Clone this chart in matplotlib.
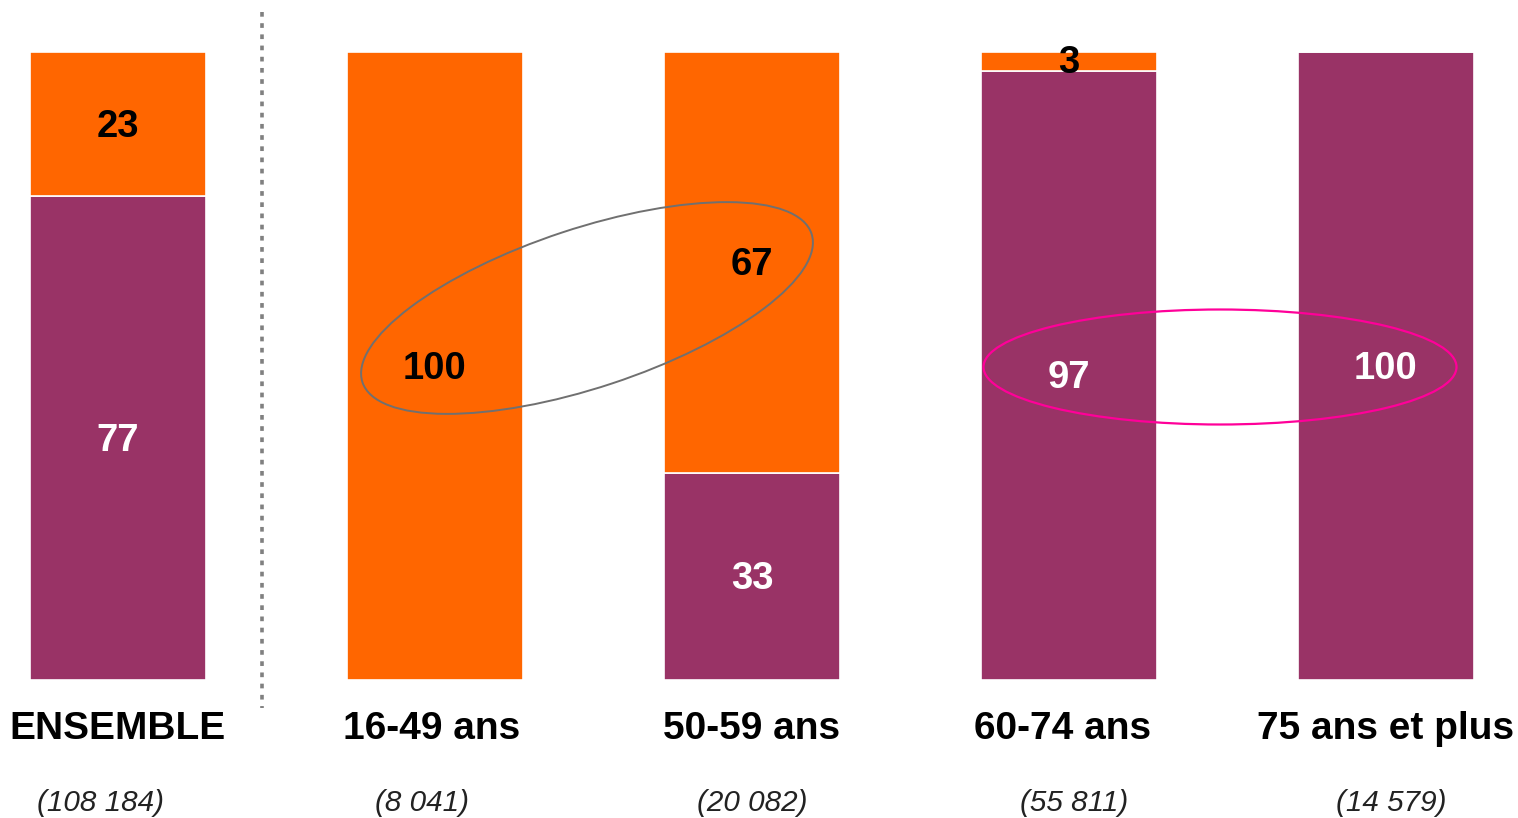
import matplotlib
matplotlib.use("Agg")
import matplotlib.pyplot as plt
from matplotlib.patches import Ellipse
from matplotlib.transforms import IdentityTransform

categories = ["ENSEMBLE", "16-49 ans", "50-59 ans", "60-74 ans", "75 ans et plus"]
counts = ["(108 184)", "(8 041)", "(20 082)", "(55 811)", "(14 579)"]
purple_vals = [77, 0, 33, 97, 100]
orange_vals = [23, 100, 67, 3, 0]

PURPLE = "#993366"
ORANGE = "#FF6600"

plt.rcParams["font.family"] = ["Liberation Sans", "DejaVu Sans"]

W, H = 1518, 818
fig = plt.figure(figsize=(W / 100, H / 100), dpi=100)
ax = fig.add_axes([0, (H - 680) / H, 1, 628 / H])
ax.set_axis_off()

x = list(range(len(categories)))
unit = 317.0
ax.set_xlim(-118 / unit, (W - 118) / unit)
ax.set_ylim(0, 100)

bw = 0.553
ax.bar(x, purple_vals, width=bw, color=PURPLE, edgecolor="white", linewidth=1.2)
ax.bar(x, orange_vals, width=bw, bottom=purple_vals, color=ORANGE, edgecolor="white", linewidth=1.2)

fs = 27.5
dy = -0.48
for i, (p, o) in enumerate(zip(purple_vals, orange_vals)):
    if p > 0:
        ax.text(i, p / 2 + dy, str(p), ha="center", va="center", fontsize=fs,
                fontweight="bold", color="white")
    if o > 0:
        yy = p + o / 2 + dy
        if o < 5:
            yy = p + o / 2 - 0.2
        ax.text(i, yy, str(o), ha="center", va="center", fontsize=fs,
                fontweight="bold", color="black")

ypx_to_data = lambda ypx: (680 - ypx) / 6.28
cat_dx = [0, -0.01, 0, -0.02, 0]
cnt_dx = [-0.055, -0.04, 0, 0.015, 0.015]
for i, (c, n) in enumerate(zip(categories, counts)):
    ax.text(i + cat_dx[i], ypx_to_data(729), c, ha="center", va="center", fontsize=28,
            fontweight="bold", color="black", clip_on=False)
    ax.text(i + cnt_dx[i], ypx_to_data(803), n, ha="center", va="center",
            fontsize=21.3, style="italic", color="#222222", clip_on=False)

# dotted separator
xs = (262 - 118) / unit
ax.plot([xs, xs], [ypx_to_data(12), ypx_to_data(708)], color="#808080",
        linewidth=2.6, linestyle=(0, (1.3, 1.8)), dash_capstyle="butt",
        solid_capstyle="butt", clip_on=False)

# ellipses (drawn in pixel space)
fig.canvas.draw()
c1 = ax.transData.transform(((587 - 118) / unit, ypx_to_data(308)))
e1 = Ellipse(c1, width=473, height=159, angle=18.3, fill=False,
             edgecolor="#707070", linewidth=1.4, transform=IdentityTransform())
ax.add_artist(e1)
c2 = ax.transData.transform(((1220 - 118) / unit, ypx_to_data(367)))
e2 = Ellipse(c2, width=473, height=115, angle=0, fill=False,
             edgecolor="#FF0099", linewidth=1.6, transform=IdentityTransform())
ax.add_artist(e2)

fig.savefig("out.png", dpi=100, facecolor="white")
